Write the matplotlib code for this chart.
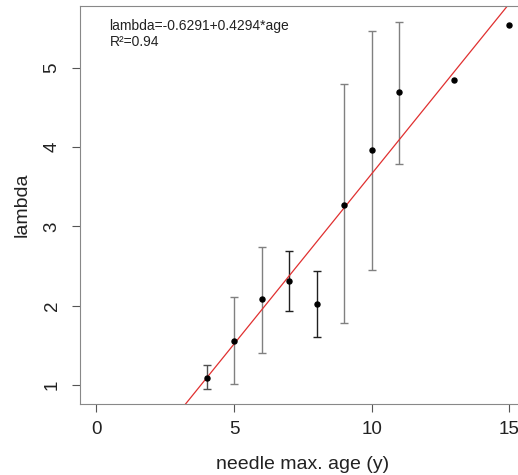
import matplotlib
matplotlib.use('Agg')
import numpy as np
import matplotlib.pyplot as plt

plt.rcParams['font.family'] = ['Liberation Sans', 'DejaVu Sans']

# needle max. age and lambda estimates
age = [4, 5, 6, 7, 8, 9, 10, 11, 13, 15]
lam = [1.09, 1.56, 2.08, 2.31, 2.02, 3.27, 3.96, 4.69, 4.85, 5.54]
# error bar ranges (None = no bar)
lo = [0.95, 1.01, 1.40, 1.93, 1.61, 1.78, 2.45, 3.79, None, None]
hi = [1.25, 2.11, 2.74, 2.69, 2.44, 4.79, 5.47, 5.58, None, None]
bar_col = ['#505050', '#808080', '#808080', '#202020', '#202020',
           '#808080', '#808080', '#808080', None, None]

intercept = -0.6291
slope = 0.4294

fig = plt.figure(figsize=(5.18, 4.75), dpi=100)
ax = fig.add_axes([0.1544, 0.1495, 0.861, 0.838])

for x, y, l, h, c in zip(age, lam, lo, hi, bar_col):
    if l is None:
        continue
    ax.errorbar([x], [y], yerr=[[y - l], [h - y]], fmt='none',
                ecolor=c, elinewidth=1, capsize=2.8, capthick=1)

ax.plot(age, lam, 'o', color='black', markersize=3.6, zorder=3)

xs = np.array([-1, 17])
ax.plot(xs, intercept + slope * xs, color='#e03030', lw=0.9, zorder=2)

ax.set_xlim(-0.6, 15.6)
ax.set_ylim(0.76, 5.78)
ax.set_xticks([0, 5, 10, 15])
ax.set_yticks([1, 2, 3, 4, 5])
for lab in ax.get_yticklabels():
    lab.set_rotation(90)
    lab.set_va('center')
ax.tick_params(labelsize=13.5, length=6, color='#555555', labelcolor='#222222')
ax.tick_params(axis='y', pad=8)
ax.tick_params(axis='x', pad=6)
for s in ax.spines.values():
    s.set_color('#888888')

ax.set_xlabel('needle max. age (y)', fontsize=14, color='#222222', labelpad=13)
ax.set_ylabel('lambda', fontsize=14, color='#222222', labelpad=9)

ax.text(0.47, 5.53, 'lambda=-0.6291+0.4294*age', fontsize=10, va='center', color='#222222')
ax.text(0.47, 5.32, 'R²=0.94', fontsize=10, va='center', color='#222222')

plt.savefig('out.png', dpi=100)
